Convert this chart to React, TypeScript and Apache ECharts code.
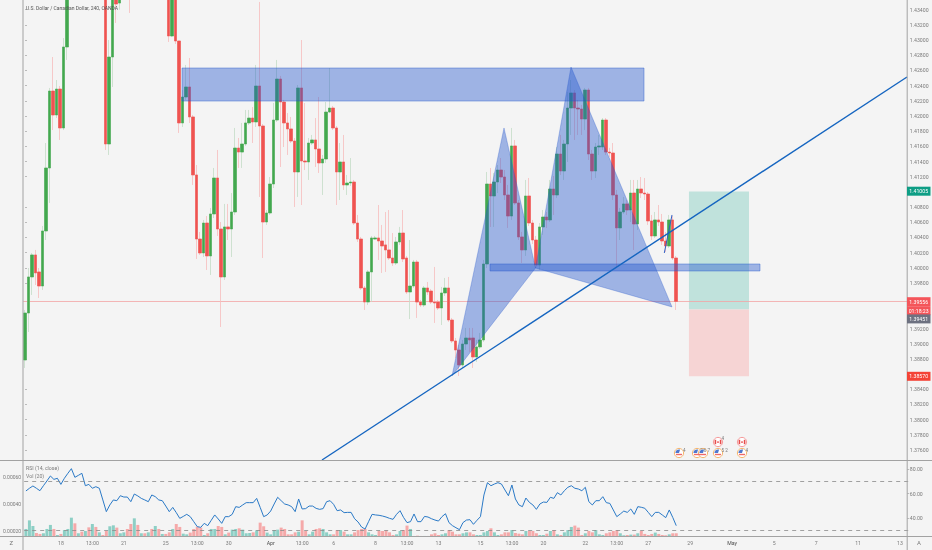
import React, { useEffect, useRef } from "react";
import * as echarts from "echarts";

const SLOTS = 253;
// rows: open, close, low, high
const candlesA = [
[1.38785,1.39404,1.38680,1.39444],[1.39404,1.39879,1.39154,1.39997],[1.39879,1.40169,1.39642,1.40195],[1.40169,1.39932,1.39773,1.40235],[1.39945,1.39760,1.39602,1.39997],
[1.39760,1.40485,1.39708,1.40551],[1.40485,1.41315,1.40366,1.41644],[1.41315,1.42329,1.40854,1.42369],[1.42329,1.42013,1.41815,1.42777],[1.42013,1.42355,1.41973,1.42474],
[1.42355,1.41842,1.41684,1.42395],[1.41842,1.42909,1.41815,1.43027],[1.42909,1.43920,1.42738,1.44050],[1.4392,1.4420,1.4385,1.4431],[1.4420,1.4410,1.4398,1.4433],
[1.4410,1.4435,1.4402,1.4445],[1.4435,1.4422,1.4412,1.4440],[1.4422,1.4445,1.4415,1.4452],[1.4445,1.4430,1.4420,1.4450],[1.4430,1.4448,1.4425,1.4455],
[1.4448,1.4436,1.4428,1.4452],[1.4436,1.4442,1.4430,1.4450],[1.4442,1.4430,1.4422,1.4447],[1.4430,1.41631,1.41552,1.4440],[1.41631,1.42777,1.41486,1.43001],
[1.42777,1.4390,1.42382,1.4405],[1.4390,1.43475,1.43225,1.4398],[1.43488,1.4375,1.43400,1.4385],[1.4375,1.4410,1.4370,1.4420],[1.4410,1.4400,1.4390,1.4418],
[1.4400,1.4385,1.43357,1.4408],[1.4385,1.4405,1.4378,1.4412],[1.4405,1.4395,1.4388,1.4410],[1.4395,1.4415,1.4390,1.4422],[1.4415,1.4402,1.4396,1.4420],
[1.4402,1.4412,1.4398,1.4418],[1.4412,1.4398,1.4390,1.4416],[1.4398,1.4405,1.4392,1.4410],[1.4405,1.4392,1.4385,1.4408],[1.4392,1.4400,1.4388,1.4405],
[1.4400,1.4390,1.4382,1.4405],[1.4385,1.43054,1.42975,1.4395],[1.43054,1.4375,1.43040,1.4385],[1.4375,1.42988,1.42948,1.4380],[1.42988,1.41908,1.41776,1.42988],
[1.41908,1.42250,1.41855,1.42342],[1.42250,1.42382,1.42211,1.42672],[1.42382,1.41987,1.41908,1.42764],[1.41987,1.41223,1.41091,1.42013],[1.41223,1.40379,1.40116,1.41354],
[1.40379,1.40195,1.40169,1.40472],[1.40195,1.40590,1.40142,1.40630],[1.40590,1.40156,1.39971,1.40682],[1.40156,1.40709,1.39905,1.40788],[1.40709,1.41183,1.40656,1.41315],
[1.41183,1.40511,1.40419,1.41552],[1.40511,1.39879,1.39220,1.40603],[1.39879,1.40538,1.39839,1.40841],[1.40538,1.40511,1.40366,1.40841],[1.40511,1.40735,1.40142,1.40985],
];
const candlesB = [
[1.40735,1.41578,1.40696,1.41842],[1.41578,1.41525,1.41315,1.41710],[1.41525,1.41631,1.41315,1.41908],[1.41631,1.41908,1.41605,1.42079],[1.41908,1.41973,1.41881,1.42079],
[1.41973,1.41921,1.41644,1.42118],[1.41921,1.42395,1.41855,1.42672],[1.42395,1.41868,1.40933,1.43502],[1.41868,1.40603,1.40129,1.41894],[1.40603,1.40722,1.40564,1.40761],
[1.40722,1.41104,1.40696,1.41196],[1.41104,1.41947,1.41051,1.42171],[1.41947,1.42487,1.41921,1.42738],[1.42487,1.42184,1.41328,1.42527],[1.42184,1.41908,1.41591,1.42211],
[1.41908,1.41829,1.41486,1.42039],[1.41829,1.41670,1.41644,1.41987],[1.41670,1.41262,1.40801,1.41710],[1.41262,1.42369,1.40933,1.42408],[1.42369,1.41407,1.40827,1.43001],
[1.41407,1.41394,1.41288,1.42171],[1.41394,1.41644,1.41157,1.41710],[1.41644,1.41684,1.41618,1.41750],[1.41684,1.41565,1.41328,1.41973],[1.41565,1.41381,1.41249,1.42250],
[1.41381,1.41433,1.40959,1.41486],[1.41433,1.42052,1.41381,1.42184],[1.42052,1.42105,1.42039,1.42632],[1.42105,1.41842,1.41815,1.42132],[1.41842,1.41262,1.40827,1.41868],
[1.41262,1.41394,1.40893,1.41644],[1.41394,1.41091,1.41025,1.41750],[1.41091,1.41117,1.40959,1.41223],[1.41117,1.41130,1.41078,1.41446],[1.41130,1.40590,1.40564,1.41157],
[1.40590,1.40379,1.40340,1.40696],[1.40379,1.39734,1.39708,1.40406],[1.39734,1.39549,1.39444,1.39760],[1.39549,1.39945,1.39510,1.39971],[1.39945,1.40393,1.39549,1.40419],
[1.40379,1.40393,1.40366,1.40419],[1.40393,1.40353,1.40103,1.40827],[1.40353,1.40287,1.39932,1.40564],[1.40301,1.40235,1.39945,1.40735],[1.40235,1.40129,1.40103,1.40761],
[1.40129,1.40063,1.40024,1.40458],[1.40063,1.40340,1.40037,1.40406],[1.40340,1.40458,1.40301,1.40538],[1.40458,1.40116,1.40076,1.40761],[1.40129,1.39681,1.39655,1.40156],
[1.39681,1.39760,1.39325,1.40366],[1.39760,1.40076,1.39734,1.40103],[1.40076,1.39549,1.39339,1.40103],[1.39549,1.39510,1.39484,1.39576],[1.39510,1.39734,1.39484,1.39760],
[1.39734,1.39681,1.39642,1.39813],[1.39694,1.39549,1.39523,1.39721],[1.39549,1.39536,1.39273,1.40011],[1.39549,1.39470,1.39444,1.39576],[1.39470,1.39668,1.39246,1.39747],
[1.39668,1.39734,1.39629,1.39866],[1.39734,1.39312,1.39286,1.39879],[1.39312,1.39036,1.39009,1.39339],[1.39036,1.38917,1.38812,1.39075],[1.38917,1.38720,1.38575,1.38983],
];
const candlesC = [
[1.38720,1.38996,1.38680,1.39049],[1.38996,1.39075,1.38917,1.39207],[1.39075,1.39049,1.38891,1.39207],[1.39075,1.38825,1.38680,1.39207],[1.38825,1.38957,1.38759,1.39049],
[1.38957,1.39049,1.38930,1.39141],[1.39049,1.40050,1.39023,1.40103],[1.40050,1.41104,1.39997,1.41262],[1.41104,1.40946,1.40538,1.41315],[1.40946,1.41130,1.40538,1.41249],
[1.41130,1.41288,1.40985,1.41354],[1.41288,1.41196,1.41117,1.41446],[1.41196,1.40959,1.40893,1.41288],[1.40959,1.40682,1.40525,1.41091],[1.40682,1.41605,1.40630,1.41842],
[1.41605,1.40854,1.40827,1.41684],[1.40854,1.40406,1.40366,1.40893],[1.40406,1.40235,1.40063,1.40472],[1.40235,1.40946,1.40156,1.41157],[1.40946,1.40590,1.40551,1.41183],
[1.40590,1.40366,1.40314,1.40630],[1.40366,1.40037,1.39997,1.40419],[1.40037,1.40538,1.39971,1.40590],[1.40538,1.40669,1.40432,1.40761],[1.40669,1.40630,1.40525,1.40735],
[1.40630,1.41038,1.40603,1.41157],[1.41038,1.40959,1.40696,1.41209],[1.40959,1.41499,1.40919,1.41591],[1.41499,1.41275,1.41223,1.41750],[1.41275,1.41631,1.41157,1.41684],
[1.41631,1.42105,1.41394,1.42316],[1.42105,1.42303,1.41750,1.42474],[1.42303,1.42105,1.41684,1.42342],[1.42105,1.42092,1.41750,1.42211],[1.42092,1.41960,1.41750,1.42145],
[1.41960,1.42342,1.41815,1.42369],[1.42342,1.41499,1.41420,1.42369],[1.41499,1.41275,1.41157,1.41552],[1.41275,1.41591,1.41183,1.41644],[1.41591,1.41605,1.41486,1.41750],
[1.41591,1.41947,1.41552,1.41973],[1.41947,1.41525,1.41486,1.41973],[1.41525,1.41512,1.41460,1.41580],[1.41512,1.40959,1.40893,1.41644],[1.40959,1.40525,1.39997,1.41025],
[1.40525,1.40735,1.40366,1.40788],[1.40735,1.40841,1.40709,1.40933],[1.40841,1.40761,1.40696,1.40893],[1.40761,1.40985,1.40603,1.41157],[1.40985,1.40577,1.40235,1.41157],
[1.40577,1.41038,1.40498,1.41157],[1.41038,1.40985,1.40919,1.41196],[1.40985,1.40972,1.40893,1.41183],[1.40972,1.40617,1.40564,1.40998],[1.40617,1.40419,1.40366,1.40696],
[1.40419,1.40630,1.40393,1.40735],[1.40630,1.40603,1.40551,1.40827],[1.40603,1.40353,1.40301,1.40709],[1.40353,1.40287,1.40208,1.40472],[1.40287,1.40630,1.40261,1.40696],
[1.40630,1.40129,1.40103,1.40682],[1.40129,1.39556,1.39444,1.40156],
];
const rsiValues = [
62.2,64.4,66.3,64.4,62.4,66.5,70.4,74.5,71.7,72.6,67.6,72.6,76.7,80.5,73.4,75.0,76.7,66.5,67.6,64.4,65.7,64.4,54.8,45.2,50.7,54.8,54.2,58.3,57.2,57.2,
53.4,59.7,58.1,56.1,54.8,53.4,58.9,57.5,54.8,54.2,49.8,45.2,48.7,44.4,39.7,41.3,43.0,41.1,37.0,32.9,32.3,35.6,33.7,38.1,42.5,39.2,35.6,41.1,41.1,43.0,
49.3,48.7,50.7,52.6,52.6,52.6,56.1,48.7,41.1,42.5,45.7,51.5,57.0,54.2,51.5,50.7,49.3,45.2,55.6,47.4,47.7,49.8,49.8,47.9,47.1,47.7,53.4,54.2,51.2,46.0,
46.6,44.4,44.6,44.6,39.4,36.7,32.6,30.9,37.0,43.0,42.5,42.2,41.6,40.8,39.7,38.9,43.0,46.0,40.5,36.2,37.0,43.3,37.0,37.0,41.3,40.8,39.4,38.3,37.5,41.1,
43.5,36.2,33.7,32.0,30.4,36.2,38.3,38.6,34.8,38.1,41.1,58.9,69.0,66.5,67.9,69.0,67.9,63.0,58.3,67.1,55.6,50.7,49.3,56.4,52.8,50.7,47.1,51.5,53.1,52.8,
57.0,56.1,60.8,58.9,62.4,65.2,66.5,64.4,63.8,62.4,65.2,53.4,50.7,54.2,54.2,57.5,52.6,52.0,46.6,41.1,43.3,45.7,44.6,47.4,43.0,49.3,48.8,48.0,44.6,41.1,
44.6,44.6,42.5,40.3,46.6,40.5,33.7,
];
// volume in units of 0.00001 on the left-hand scale
const volumes = [
21.5,27.9,23.7,18.5,17.8,18.3,21.5,24.5,21.5,17,17.8,20.7,21.5,29.9,25.7,18.3,19.5,20,22.7,25.2,23,19,17,20,23.5,24.2,22.5,18.3,19,21.5,
25.2,29.4,24.5,18.3,18.3,19,21.5,23.7,21.5,17.8,17.8,19,21.5,25.2,23,18,17.5,18.8,21.5,23.2,22.5,17,18.3,21.5,21.5,23.7,23,17.5,18.8,21,
21.5,22,21,18.3,18.5,19,20.5,26.2,23.5,18.8,17.5,20.7,21,22.5,21.5,17.5,17.5,19,19.5,27.9,20,17.5,19.5,21.5,22,21.5,19,17.5,17.5,20.7,
20.7,19.5,17.5,17.5,19,20.7,21.5,21.5,19,17.5,17,20,20,20.5,19,17,17.5,20,20.7,24,21.5,16.3,16.5,16.3,16.3,16.3,17.5,18.3,17,17.5,
18.3,20.7,19.5,17.5,17.5,18.3,19,19,17.5,17,17,19,20,22,19,17,17.5,19,19,20.7,18.5,18,17.5,20,20,20,18.3,17,17,18,
20,20.7,17.5,17,19,20.7,23,24,22.5,17,18.3,20,19,20.7,17.5,17,18.3,19,20,20.7,18.3,16.8,17,17.3,17.3,18.3,20,17.8,17,17.8,
18.8,17.8,17,16.8,17.5,18.3,18.3,
];
const priceTicks = [1.434,1.432,1.43,1.428,1.426,1.424,1.422,1.42,1.418,1.416,1.414,1.412,1.408,1.406,1.404,1.402,1.4,1.398,1.392,1.39,1.388,1.384,1.382,1.38,1.378,1.376];
const rsiTicks = [80, 60, 40];
const volTicks = [0.0006, 0.0004, 0.0002];
const rsiBands = [70, 30];
const xTickSlots = [10,19,28,40,49,58,70,79,88,100,109,118,130,139,148,160,169,178,190,202,214,226,238,250];
const xTickLabels = ["18","13:00","21","25","13:00","30","Apr","13:00","6","8","13:00","13","15","13:00","20","22","13:00","27","29","May","5","7","11","13"];

// drawings: [bar index, price]
const supplyZone = [[44.86, 1.42632], [176.86, 1.42197]];
const supportZone = [[132.86, 1.4005], [210, 1.39958]];
const patternLeft = [[122, 1.38575], [136.86, 1.41842], [145.86, 1.39997]];
const patternRight = [[145.86, 1.39997], [156, 1.42645], [184.86, 1.39484]];
const patternTick = [[182.66, 1.40195], [184.86, 1.40696]];
const trendLine = [[84.86, 1.37468], [252, 1.42514]];
const tradeSlots = [189.7, 206.86];
const tradeTarget = 1.41005;
const tradeEntry = 1.39451;
const tradeStop = 1.3857;
const lastPrice = 1.39556;
const lastPriceSlots = [-0.5, 252];

const FONT = "Roboto";
const GREY = "#7b7b7b";
const FRAME = "#a2a2a2";

function pill(y: number, text: string, fill: string) {
  return [
    { type: "rect", z: 90, shape: { x: 907, y: y - 4.5, width: 23.5, height: 9 }, style: { fill } },
    { type: "text", z: 91, style: { text, x: 918.7, y, fill: "#fff", font: `5.2px ${FONT}`, textAlign: "center", textVerticalAlign: "middle" } },
  ];
}
function frameLine(x1: number, y1: number, x2: number, y2: number) {
  return { type: "line", z: 80, shape: { x1, y1, x2, y2 }, style: { stroke: FRAME, lineWidth: 1 } };
}
function label(text: string, x: number, y: number, size = 5.2, fill = GREY) {
  return { type: "text", z: 85, style: { text, x, y, fill, font: `${size}px ${FONT}`, textVerticalAlign: "middle" } };
}
function usIcon(x: number, y: number) {
  return [
    { type: "circle", z: 85, shape: { cx: x, cy: y, r: 4.6 }, style: { fill: "#fff", stroke: "#f5b56b", lineWidth: 1 } },
    { type: "sector", z: 86, shape: { cx: x, cy: y, r: 3.6, r0: 0, startAngle: Math.PI, endAngle: Math.PI * 1.6 }, style: { fill: "#4f78cf" } },
    { type: "rect", z: 86, shape: { x: x - 3, y: y + 0.8, width: 6, height: 1.4 }, style: { fill: "#ef6a6a" } },
  ];
}
function caIcon(x: number, y: number) {
  return [
    { type: "circle", z: 85, shape: { cx: x, cy: y, r: 4.6 }, style: { fill: "#fff", stroke: "#f59a9a", lineWidth: 1 } },
    { type: "rect", z: 86, shape: { x: x - 3.4, y: y - 2.2, width: 1.6, height: 4.4 }, style: { fill: "#e74c4c" } },
    { type: "rect", z: 86, shape: { x: x + 1.8, y: y - 2.2, width: 1.6, height: 4.4 }, style: { fill: "#e74c4c" } },
    { type: "rect", z: 86, shape: { x: x - 0.7, y: y - 0.8, width: 1.4, height: 1.8 }, style: { fill: "#e74c4c" } },
  ];
}

export default function App() {
  const ref = useRef<HTMLDivElement>(null);
  useEffect(() => {
    const chart = echarts.init(ref.current!, null, { renderer: "svg" });
    const candles = [...candlesA, ...candlesB, ...candlesC];
    const slotNames = Array.from({ length: SLOTS }, (_, i) => {
      const k = xTickSlots.indexOf(i);
      return k >= 0 ? xTickLabels[k] : "";
    });
    const slotIds = Array.from({ length: SLOTS }, (_, i) => String(i));
    const wicks = candles.map((c) => [c[0], c[1], c[2], c[3]]);
    const bodies = candles.map((c) => [c[0], c[1], Math.min(c[0], c[1]), Math.max(c[0], c[1])]);
    const GREEN = "#43a84e";
    const RED = "#ef5350";
    const BLUE_FILL = "rgba(37,88,205,0.42)";
    const BLUE_EDGE = "rgba(37,88,205,0.6)";

    const option: any = {
      animation: false,
      backgroundColor: "#f4f4f4",
      grid: [
        { left: 23.25, top: 0, width: 885.5, height: 460.5 },
        { left: 23.25, top: 461, width: 885.5, height: 75.5 },
      ],
      xAxis: [
        { type: "category", gridIndex: 0, data: slotIds, show: false, boundaryGap: true },
        { type: "value", gridIndex: 0, min: -0.5, max: SLOTS - 0.5, show: false, position: "top" },
        {
          type: "category", gridIndex: 1, data: slotNames, boundaryGap: true,
          axisLine: { show: false }, axisTick: { show: false }, splitLine: { show: false },
          axisLabel: {
            interval: (i: number) => xTickSlots.includes(i), margin: 4, hideOverlap: false,
            color: GREY, fontSize: 5.2, fontFamily: FONT,
            formatter: (v: string) => (v === "Apr" || v === "May" ? `{b|${v}}` : v),
            rich: { b: { color: "#4d4d4d", fontSize: 5.2, fontFamily: FONT } },
          },
        },
      ],
      yAxis: [
        {
          type: "value", gridIndex: 0, position: "right", offset: -1.5, min: 1.37461, max: 1.43528, scale: true,
          axisLine: { show: false }, splitLine: { show: false },
          axisTick: { show: true, length: 2, lineStyle: { color: FRAME, width: 0.7 }, customValues: priceTicks },
          axisLabel: { customValues: priceTicks, color: GREY, fontSize: 5.2, fontFamily: FONT, margin: 2.5, formatter: (v: number) => v.toFixed(5) },
        },
        {
          type: "value", gridIndex: 1, position: "right", offset: -1.5, min: 24.8, max: 86.8,
          axisLine: { show: false }, splitLine: { show: false },
          axisTick: { show: true, length: 2, lineStyle: { color: FRAME, width: 0.7 }, customValues: rsiTicks },
          axisLabel: { customValues: rsiTicks, color: GREY, fontSize: 5.2, fontFamily: FONT, margin: 2.5, formatter: (v: number) => v.toFixed(2) },
        },
        {
          type: "value", gridIndex: 1, position: "left", min: 0.000159, max: 0.00072,
          axisLine: { show: false }, splitLine: { show: false }, axisTick: { show: false },
          axisLabel: { customValues: volTicks, color: GREY, fontSize: 5, fontFamily: FONT, margin: 3, formatter: (v: number) => v.toFixed(5) },
        },
      ],
      series: [
        {
          type: "custom", xAxisIndex: 1, yAxisIndex: 0, z: 1, silent: true, clip: true, data: [[0, 0]],
          renderItem: (_: any, api: any) => {
            const box = (x0: number, x1: number, p0: number, p1: number, fill: string) => {
              const a = api.coord([x0, p0]);
              const b = api.coord([x1, p1]);
              return { type: "rect", shape: { x: a[0], y: a[1], width: b[0] - a[0], height: b[1] - a[1] }, style: { fill } };
            };
            const l0 = api.coord([lastPriceSlots[0], lastPrice]);
            const l1 = api.coord([lastPriceSlots[1], lastPrice]);
            return {
              type: "group",
              children: [
                box(tradeSlots[0], tradeSlots[1], tradeTarget, tradeEntry, "#c0e2dc"),
                box(tradeSlots[0], tradeSlots[1], tradeEntry, tradeStop, "#f6d4d4"),
                { type: "line", shape: { x1: l0[0], y1: l0[1], x2: l1[0], y2: l1[1] }, style: { stroke: "#f2a3a3", lineWidth: 0.8 } },
              ],
            };
          },
        },
        {
          type: "candlestick", xAxisIndex: 0, yAxisIndex: 0, z: 2, silent: true, barWidth: 2.8, data: wicks,
          itemStyle: { color: "transparent", color0: "transparent", borderColor: "#c4dcc6", borderColor0: "#f6bdbd", borderWidth: 0.8 },
        },
        {
          type: "candlestick", xAxisIndex: 0, yAxisIndex: 0, z: 3, silent: true, barWidth: 2.8, data: bodies,
          itemStyle: { color: GREEN, color0: RED, borderColor: GREEN, borderColor0: RED, borderWidth: 0.5 },
        },
        {
          type: "custom", xAxisIndex: 1, yAxisIndex: 0, z: 4, silent: true, clip: true, data: [[0, 0]],
          renderItem: (_: any, api: any) => {
            const zone = (z: number[][]) => {
              const a = api.coord(z[0]);
              const b = api.coord(z[1]);
              return { type: "rect", shape: { x: a[0], y: a[1], width: b[0] - a[0], height: b[1] - a[1] }, style: { fill: BLUE_FILL, stroke: BLUE_EDGE, lineWidth: 0.7 } };
            };
            const poly = (pts: number[][]) => ({
              type: "polygon", shape: { points: pts.map((p) => api.coord(p)) }, style: { fill: BLUE_FILL, stroke: BLUE_EDGE, lineWidth: 0.5 },
            });
            const seg = (pts: number[][], stroke: string, lineWidth: number) => {
              const a = api.coord(pts[0]);
              const b = api.coord(pts[1]);
              return { type: "line", shape: { x1: a[0], y1: a[1], x2: b[0], y2: b[1] }, style: { stroke, lineWidth } };
            };
            return {
              type: "group",
              children: [
                zone(supplyZone), zone(supportZone), poly(patternLeft), poly(patternRight),
                seg(patternTick, "#2f5fc4", 1), seg(trendLine, "#1565c0", 1.4),
              ],
            };
          },
        },
        {
          type: "bar", xAxisIndex: 2, yAxisIndex: 2, z: 2, barWidth: 3, silent: true,
          data: volumes.map((v, i) => ({
            value: v * 1e-5,
            itemStyle: { color: candles[i] && candles[i][1] >= candles[i][0] ? "#8dcfc5" : "#f5a9a9" },
          })),
        },
        {
          type: "line", xAxisIndex: 2, yAxisIndex: 1, z: 3, silent: true, showSymbol: false, data: rsiValues,
          lineStyle: { color: "#2a79c6", width: 1 },
          markLine: {
            silent: true, symbol: "none", label: { show: false }, animation: false,
            lineStyle: { color: "#8a8a8a", type: [4, 4], width: 0.8 },
            data: rsiBands.map((v) => ({ yAxis: v })),
          },
        },
      ],
      graphic: {
        elements: [
          frameLine(23, 0, 23, 550),
          frameLine(907.2, 0, 907.2, 550),
          frameLine(0, 460.5, 932, 460.5),
          frameLine(0, 536.5, 932, 536.5),
          label("U.S. Dollar / Canadian Dollar, 240, OANDA", 26, 7.5, 5, "#555"),
          label("RSI (14, close)", 26, 468, 5.2),
          label("Vol (20)", 26, 476, 5.2),
          label("Z", 9.5, 542.7, 6),
          label("A", 917, 542.7, 6),
          ...pill(191.2, "1.41005", "#0e9e85"),
          ...pill(301.7, "1.39556", "#f4555a"),
          ...pill(310.7, "01:18:23", "#f4555a"),
          ...pill(318.9, "1.39451", "#6d7180"),
          ...pill(376.3, "1.38570", "#f44336"),
          ...usIcon(679, 453), ...usIcon(697, 453), ...usIcon(703, 453), ...usIcon(718, 453), ...usIcon(742, 453),
          ...caIcon(718, 442), ...caIcon(742, 442),
          label("4", 683, 450, 4.6),
          label("2 6 7", 700, 450, 4.6),
          label("5 2", 721.5, 450, 4.6),
          label("4", 721.5, 438, 4.6),
          label("4", 745.5, 450, 4.6),
        ],
      },
    };
    chart.setOption(option);
    return () => chart.dispose();
  }, []);
  return <div ref={ref} style={{ position: "absolute", left: 0, top: 0, width: 932, height: 550, filter: "blur(0.3px)" }} />;
}
